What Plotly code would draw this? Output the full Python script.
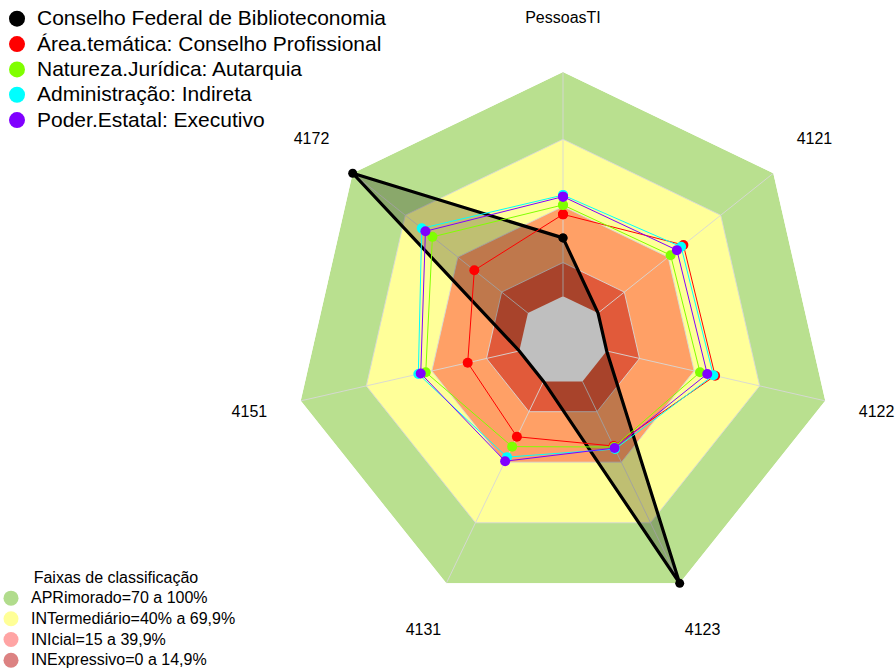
import plotly.graph_objects as go

# ---------------- data ----------------
categories = ["PessoasTI", "4121", "4122", "4123", "4131", "4151", "4172"]

conselho_federal = [26.0, 0.0, 0.0, 100.0, 0.0, 0.0, 100.0]
area_tematica = [36.5, 48.7, 49.6, 32.0, 27.4, 23.6, 30.6]
natureza_juridica = [40.7, 41.4, 42.7, 32.5, 32.3, 42.8, 54.5]
administracao = [45.1, 47.4, 48.8, 33.5, 37.5, 46.2, 60.6]
poder_estatal = [44.4, 45.0, 46.0, 33.0, 39.5, 45.1, 58.5]

series_names = [
    "Conselho Federal de Biblioteconomia",
    "Área.temática: Conselho Profissional",
    "Natureza.Jurídica: Autarquia",
    "Administração: Indireta",
    "Poder.Estatal: Executivo",
]
series_values = [conselho_federal, area_tematica, natureza_juridica, administracao, poder_estatal]
series_colors = ["#000000", "#FF0000", "#80FF00", "#00FFFF", "#8000FF"]

band_limits = [100, 70, 40, 15, 0]
band_fills = ["#B9E08F", "#FFFF99", "#FFA066", "#E15A3A", "#FFFFFF"]
band_labels = [
    "APRimorado=70 a 100%",
    "INTermediário=40% a 69,9%",
    "INIcial=15 a 39,9%",
    "INExpressivo=0 a 14,9%",
]
band_legend_colors = ["#A9D87F", "#FFFF8C", "#FF9A9A", "#D87474"]
grid_levels = [15, 40, 70]
legend2_title = "Faixas de classificação"

radial_min = -20
radial_max = 100
label_scale = 1.2   # axis labels sit at 1.2 x the outer radius

# ---------------- figure ----------------
theta_closed = categories + [categories[0]]
fig = go.Figure()

# background bands
for lim, col in zip(band_limits, band_fills):
    fig.add_trace(go.Scatterpolar(
        r=[lim] * len(theta_closed), theta=theta_closed, mode="lines",
        fill="toself", fillcolor=col, line=dict(width=0, color=col),
        showlegend=False, hoverinfo="skip"))

# grid polygons
for lvl in grid_levels:
    fig.add_trace(go.Scatterpolar(
        r=[lvl] * len(theta_closed), theta=theta_closed, mode="lines",
        line=dict(width=1, color="rgba(215,215,215,0.9)"),
        showlegend=False, hoverinfo="skip"))

# spokes
spoke_r, spoke_t = [], []
for c in categories:
    spoke_r += [0, radial_max, None]
    spoke_t += [c, c, None]
fig.add_trace(go.Scatterpolar(
    r=spoke_r, theta=spoke_t, mode="lines",
    line=dict(width=1, color="rgba(215,215,215,0.9)"),
    showlegend=False, hoverinfo="skip"))

# data series
for i, (name, vals, col) in enumerate(zip(series_names, series_values, series_colors)):
    first = i == 0
    fig.add_trace(go.Scatterpolar(
        r=vals + [vals[0]], theta=theta_closed,
        mode="lines+markers",
        fill="toself" if first else "none",
        fillcolor="rgba(0,0,0,0.25)" if first else None,
        line=dict(width=3.2 if first else 1, color=col),
        marker=dict(size=9 if first else 10, color=col),
        name=name, showlegend=False))

# axis labels on a concentric, larger polar subplot
fig.add_trace(go.Scatterpolar(
    r=[radial_max] * len(categories), theta=categories, mode="text",
    text=categories, textposition="middle center",
    textfont=dict(size=16, color="#000000", family="Liberation Sans, Arial"),
    cliponaxis=False, showlegend=False, hoverinfo="skip", subplot="polar2"))

# legend entries (series)
for name, col in zip(series_names, series_colors):
    fig.add_trace(go.Scatterpolar(
        r=[None], theta=[None], mode="markers",
        marker=dict(size=16, color=col),
        name=f"<span style='font-size:21px'>{name}</span>",
        legend="legend", showlegend=True))

# legend entries (bands)
for lab, col in zip(band_labels, band_legend_colors):
    fig.add_trace(go.Scatterpolar(
        r=[None], theta=[None], mode="markers",
        marker=dict(size=15, color=col, opacity=0.9),
        name=f"<span style='font-size:16px'>{lab}</span>",
        legend="legend2", showlegend=True))

cx, cy, R = 563, 341, 269
W, H = 896, 668
R2 = R * label_scale + 1
angular_common = dict(type="category", categoryarray=categories,
                      rotation=90, direction="clockwise",
                      showgrid=False, showline=False,
                      showticklabels=False, ticks="")
fig.update_layout(
    width=W, height=H,
    margin=dict(l=0, r=0, t=0, b=0, autoexpand=False),
    paper_bgcolor="white",
    font=dict(family="Liberation Sans, Arial", color="#000000"),
    polar=dict(
        domain=dict(x=[(cx - R) / W, (cx + R) / W],
                    y=[(H - cy - R) / H, (H - cy + R) / H]),
        gridshape="linear",
        bgcolor="white",
        radialaxis=dict(range=[radial_min, radial_max], visible=False,
                        showgrid=False, showline=False),
        angularaxis=angular_common,
    ),
    polar2=dict(
        domain=dict(x=[(cx - R2) / W, (cx + R2) / W],
                    y=[(H - cy - R2) / H, (H - cy + R2) / H]),
        gridshape="linear",
        bgcolor="rgba(0,0,0,0)",
        radialaxis=dict(range=[radial_min, radial_max + 0.8],
                        visible=False, showgrid=False, showline=False),
        angularaxis=angular_common,
    ),
    legend=dict(x=-3 / W, xanchor="left", y=1.0 - 1 / H, yanchor="top",
                font=dict(size=17.2, family="Liberation Sans, Arial"),
                bgcolor="rgba(0,0,0,0)", itemsizing="trace",
                tracegroupgap=0),
    legend2=dict(x=-9 / W, xanchor="left", y=-8 / H, yanchor="bottom",
                 font=dict(size=13.6, family="Liberation Sans, Arial"),
                 title=dict(text=legend2_title, side="top center",
                            font=dict(size=16)),
                 bgcolor="rgba(0,0,0,0)", itemsizing="trace",
                 tracegroupgap=0),
)

fig.write_html("out.html", config={"displayModeBar": False},
               post_script="document.body.style.margin='0px';")
